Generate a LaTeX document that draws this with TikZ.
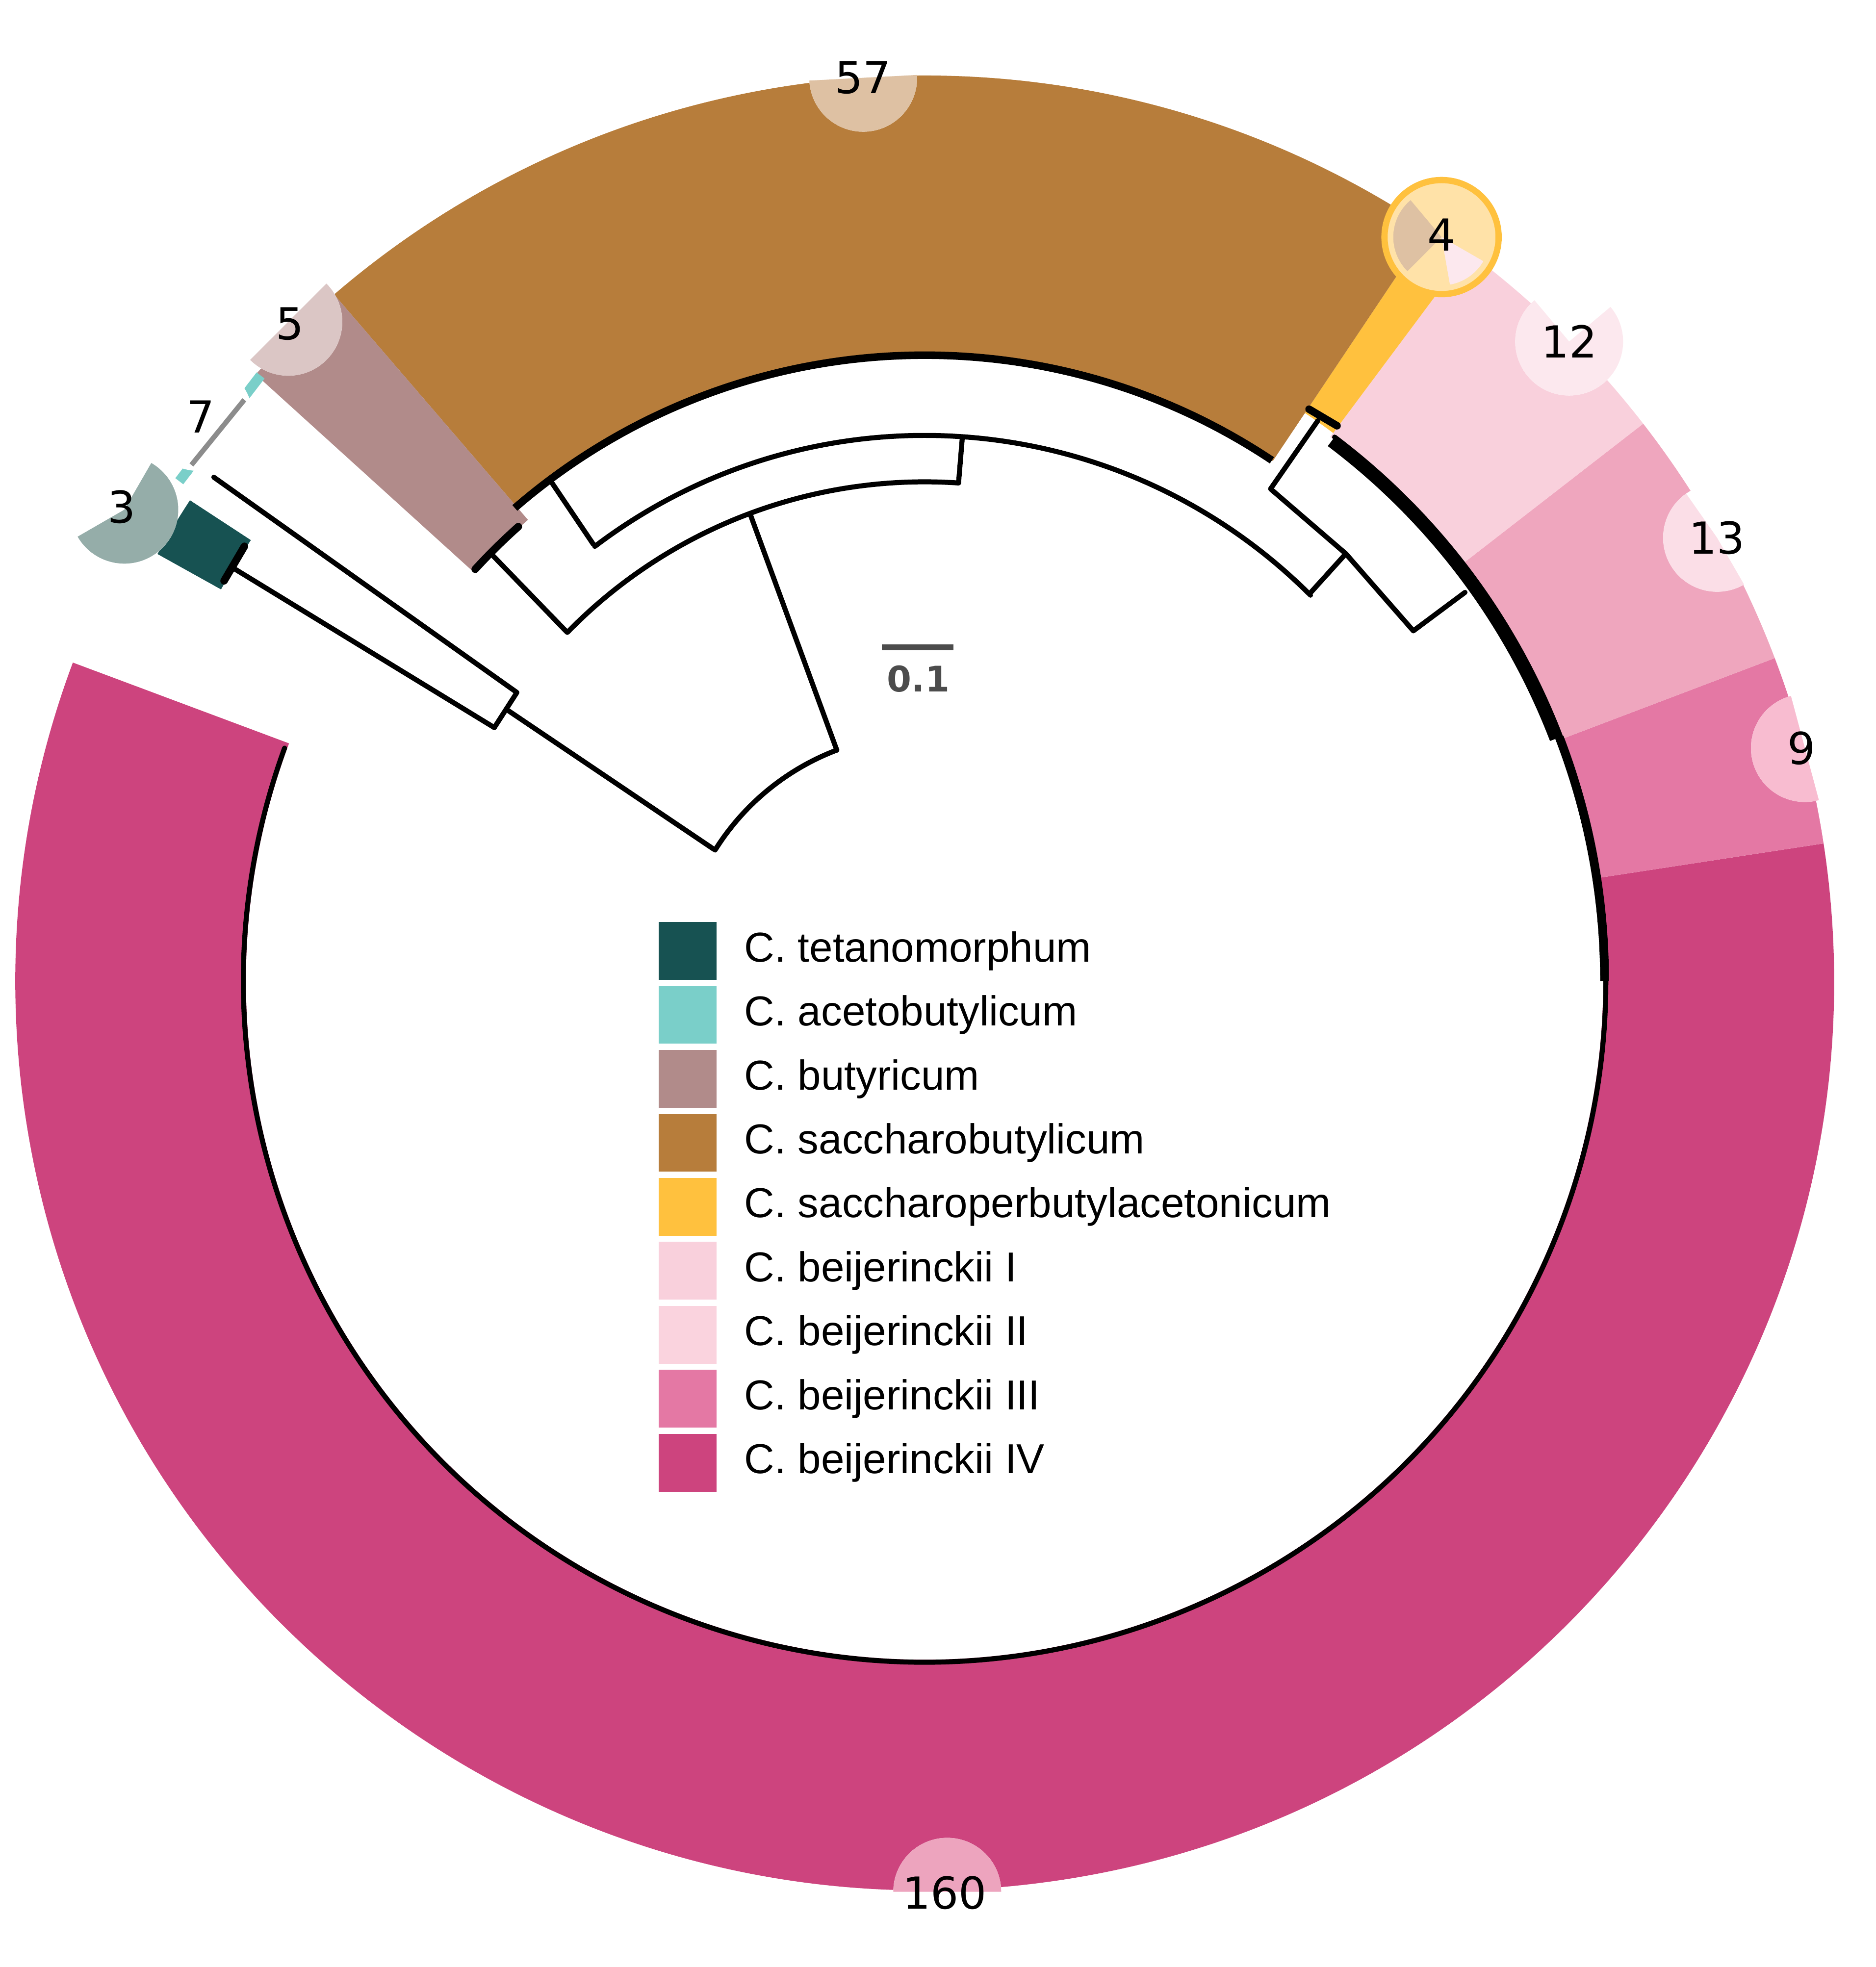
\documentclass[tikz,border=0pt]{standalone}
\usepackage{fontspec}
\setmainfont{Liberation Sans}
\newfontfamily\numfont{DejaVu Sans}
\definecolor{tet}{HTML}{175252}\definecolor{tetT}{HTML}{95ADA9}
\definecolor{ace}{HTML}{7ACFC9}\definecolor{aceT}{HTML}{C3E8E6}
\definecolor{but}{HTML}{B18B8A}\definecolor{butT}{HTML}{DBC6C5}
\definecolor{sab}{HTML}{B77D3B}\definecolor{sabT}{HTML}{DEC1A3}
\definecolor{spb}{HTML}{FFC13E}\definecolor{spbT}{HTML}{FFE2A8}
\definecolor{bA}{HTML}{F9D0DC}\definecolor{bAT}{HTML}{FCE8EE}
\definecolor{bB}{HTML}{EFA6BE}\definecolor{bBL}{HTML}{FAD3DE}
\definecolor{bC}{HTML}{E478A4}\definecolor{bCT}{HTML}{F8BCD0}
\definecolor{bD}{HTML}{CD447E}\definecolor{bDT}{HTML}{EDA4BE}
\newcommand\ringsec[5]{\fill[#1] (#2:#4cm) arc[start angle=#2,end angle=#3,radius=#4cm] -- (#3:#5cm) arc[start angle=#3,end angle=#2,radius=#5cm] -- cycle;}
\newcommand\badgebase[5]{% pos, pie colour, a1, a2
 \fill[white] #1 circle[radius=0.86cm];
 \fill[#2] #1 -- ++(#3:0.86cm) arc[start angle=#3,end angle=#4,radius=0.86cm] -- cycle;}
\newcommand\badgerim[3]{% pos, border, tint
 \draw[#3, line width=0.1cm] #1 circle[radius=0.82cm];
 \draw[#2, line width=0.1cm] #1 circle[radius=0.91cm];}
\begin{document}
\begin{tikzpicture}[x=0.02cm,y=-0.02cm,
  br/.style={line width=0.08cm, line join=round, line cap=round},
  num/.style={font=\numfont\fontsize{20}{24}\selectfont, inner sep=0pt},
  legsq/.style={minimum width=0.92cm, minimum height=0.92cm, inner sep=0pt},
  legtxt/.style={anchor=west, font=\fontsize{19}{23}\selectfont, inner sep=0pt}]
\useasboundingbox (0,0) rectangle (1495,1568);
\coordinate (C) at (737,782);
% ring
\begin{scope}[shift={(C)}]
\ringsec{bD}{159.5}{368.7}{10.82}{14.5}
\ringsec{bC}{8.7}{20.8}{10.82}{14.5}
\ringsec{bB}{20.8}{37.8}{10.82}{14.5}
\ringsec{bA}{37.8}{53.3}{10.82}{14.5}
\ringsec{spb}{53.3}{56.2}{10.9}{14.5}
\ringsec{sab}{56.2}{130.7}{9.98}{14.44}
\ringsec{but}{130.7}{137.8}{9.7}{14.4}
\ringsec{tet}{146.8}{150.9}{12.84}{14.0}
% tree arcs
\draw[br] (148:3.94cm) arc[start angle=148,end angle=110.8,radius=3.94cm];
\draw[br] (135.7:7.96cm) arc[start angle=135.7,end angle=86.1,radius=7.96cm];
\draw[br] (127.2:8.7cm) arc[start angle=127.2,end angle=45,radius=8.7cm];
\draw[line width=0.12cm] (130.9:9.98cm) arc[start angle=130.9,end angle=56.3,radius=9.98cm];
\draw[br] (160:10.86cm) arc[start angle=160,end angle=413,radius=10.86cm];
\draw[line width=0.2cm] (53:10.78cm) arc[start angle=53,end angle=21,radius=10.78cm];
\draw[line width=0.14cm] (21:10.84cm) arc[start angle=21,end angle=0,radius=10.84cm];
\draw[line width=0.12cm, line cap=round] (131.8:9.72cm) arc[start angle=131.8,end angle=137.5,radius=9.72cm];
\end{scope}
% tree lines
\coordinate (r0) at (569,677); \coordinate (r1) at (667,598);
\coordinate (nL) at (405.6,566.8); \coordinate (nLa) at (412,552); \coordinate (nLb) at (394,580);
\coordinate (tAce) at (170.4,380.4); \coordinate (tTet) at (186.7,453.3);
\coordinate (n2) at (598,410); \coordinate (nBut) at (452,504); \coordinate (tBut) at (392,442);
\coordinate (nBr) at (473,434); \coordinate (tBr) at (440,385);
\coordinate (m1) at (764,385); \coordinate (m2) at (767,349);
\coordinate (nR) at (1045,472); \coordinate (nR2) at (1072.7,441.4); \coordinate (nO) at (1012.7,389.7);
\coordinate (tO) at (1050.4,335.3); \coordinate (nB) at (1126.5,502.9); \coordinate (tB) at (1167.7,472.2);
\draw[br] (r0) -- (nL);
\draw[br] (r1) -- (n2);
\draw[br] (nLb) -- (nLa) -- (tAce);
\draw[br] (nLb) -- (tTet);
\draw[line width=0.12cm, line cap=round] (178.6,463) -- (194.8,435.5);
\draw[br] (nBut) -- (tBut);
\draw[br] (nBr) -- (tBr);
\draw[br] (m1) -- (m2);
\draw[br] (nR) -- (nR2) -- (nO) -- (tO);
\draw[line width=0.12cm, line cap=round] (1043.4,326.2) -- (1065.7,339.4);
\draw[br] (nR2) -- (nB) -- (tB);
% aceto strip
\draw[ace, line width=0.16cm] (142.9,383.6) -- (207.7,299.3);
% scale bar
\draw[black!70, line width=0.1cm] (703,516) -- (760,516);
\node[font=\numfont\bfseries\fontsize{16}{19}\selectfont, text=black!70] (sc) at (732,541) {0.1};
% badges
\badgebase{(688,62)}{sabT}{183}{363}\badgerim{(688,62)}{sab}{sabT}
\node[num] (b57) at (688,62) {57};
\fill[white] (1149,189) circle[radius=0.86cm];
\fill[spbT] (1149,189) circle[radius=0.86cm];
\fill[sabT] (1149,189) -- ++(130:0.86cm) arc[start angle=130,end angle=225,radius=0.86cm] -- cycle;
\fill[bAT] (1149,189) -- ++(-80:0.86cm) arc[start angle=-80,end angle=-30,radius=0.86cm] -- cycle;
\badgerim{(1149,189)}{spb}{spbT}
\node[num] (b4) at (1149,187) {4};
\badgebase{(1250.7,272.3)}{bAT}{-230}{40}\badgerim{(1250.7,272.3)}{bA}{bAT}
\node[num] (b12) at (1250.7,272.3) {12};
\badgebase{(1368.6,428.7)}{bAT!60!bA}{125}{300}\badgerim{(1368.6,428.7)}{bA}{bAT}
\node[num] (b13) at (1368.6,428.7) {13};
\badgebase{(1438.6,596.3)}{bCT}{105}{285}\badgerim{(1438.6,596.3)}{bB}{bCT}
\node[num] (b9) at (1436,596.3) {9};
\badgebase{(755,1508)}{bDT}{0}{180}\badgerim{(755,1508)}{bD}{bDT}
\node[num] (b160) at (753,1509) {160};
\badgebase{(229.8,256.5)}{butT}{-135}{45}\badgerim{(229.8,256.5)}{but!85!white}{butT}
\node[num] (b5) at (231,258) {5};
\badgebase{(158.4,332.4)}{white}{0}{10}\badgerim{(158.4,332.4)}{ace}{aceT}
\draw[black!45, line width=0.08cm] (152.6,370.6) -- (194.7,318.7);
\node[num] (b7) at (160,332) {7};
\badgebase{(99.1,406.3)}{tetT}{-150}{60}\badgerim{(99.1,406.3)}{tet}{tetT}
\node[num] (b3) at (97,404) {3};
% legend
\foreach \i/\c/\t in {0/tet/C. tetanomorphum,1/ace/C. acetobutylicum,2/but/C. butyricum,3/sab/C. saccharobutylicum,4/spb/C. saccharoperbutylacetonicum,5/bA/C. beijerinckii I,6/bBL/C. beijerinckii II,7/bC/C. beijerinckii III,8/bD/C. beijerinckii IV}{
  \node[legsq, fill=\c] (sq\i) at (548,758+51*\i) {};
  \node[legtxt] (lt\i) at (593,758+51*\i) {\t};
}
\end{tikzpicture}
\end{document}
